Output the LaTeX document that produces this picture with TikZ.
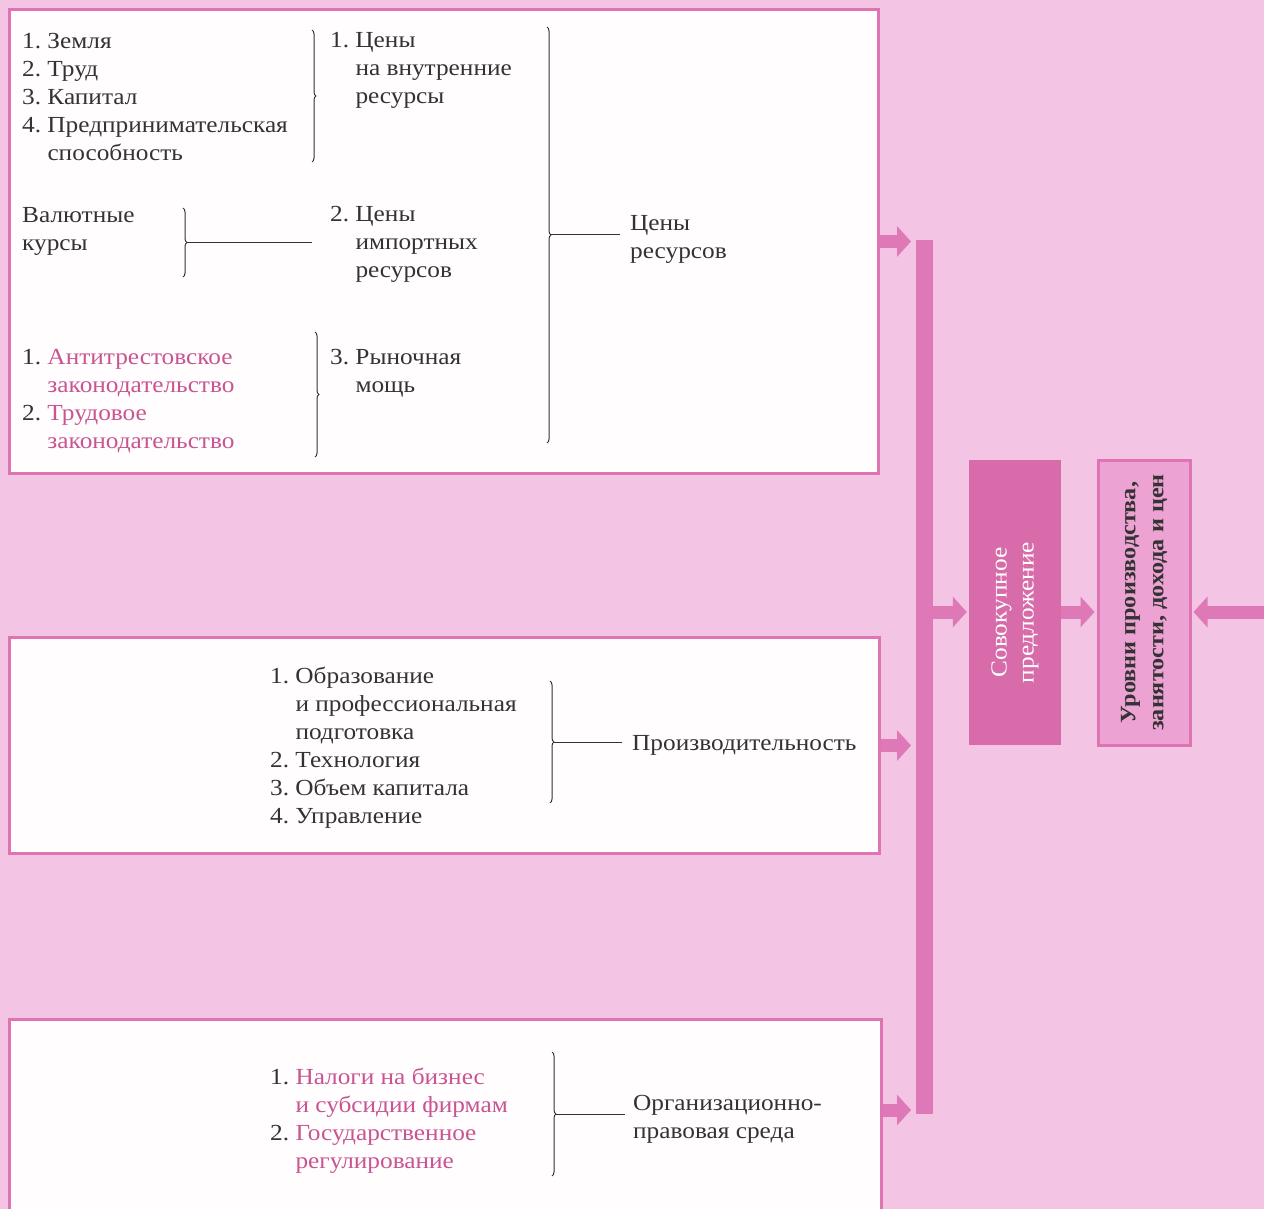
\documentclass[tikz,border=0pt]{standalone}
\usepackage{fontspec}
\setmainfont{Liberation Serif}[FakeStretch=1.1]
\usetikzlibrary{arrows.meta, decorations.pathreplacing}
\definecolor{pagepink}{RGB}{243,196,228}
\definecolor{framepink}{RGB}{222,116,178}
\definecolor{barpink}{RGB}{222,120,182}
\definecolor{boxpink}{RGB}{216,108,170}
\definecolor{levelpink}{RGB}{236,162,210}
\definecolor{inkgray}{RGB}{52,50,52}
\definecolor{lawpink}{RGB}{200,85,145}

% numbered lists with hanging continuation lines
\newcommand{\itemtab}[1]{\begin{tabular}[t]{@{}l@{\ }l@{}}#1\end{tabular}}
\newcommand{\plaintab}[1]{\begin{tabular}[t]{@{}l@{}}#1\end{tabular}}
\newcommand{\law}[1]{\textcolor{lawpink}{#1}}

\tikzset{
  panel/.style={draw=framepink, line width=3pt, fill=white!96!pagepink, anchor=north west, inner sep=0pt},
  txt/.style={anchor=base west, inner sep=0pt, text=inkgray, font=\fontsize{23}{28}\selectfont},
  brace/.style={decorate, decoration={brace, amplitude=4pt}, draw=inkgray, line width=1pt},
  link/.style={draw=inkgray, line width=1pt},
  flow/.style={draw=barpink, line width=13pt, -{Triangle[length=14pt, width=30pt]}},
  upright/.style={rotate=90, minimum width=285pt, minimum height=92pt, inner sep=0pt, align=center},
  sumbox/.style={upright, fill=boxpink, text=white, font=\fontsize{23}{27}\selectfont},
  levelbox/.style={upright, fill=levelpink, draw=framepink, line width=3pt, text=inkgray, font=\bfseries\fontsize{22}{28}\selectfont},
}

\begin{document}
\begin{tikzpicture}[x=1pt, y=-1pt]
\fill[pagepink] (0,0) rectangle (1264,1209);
\useasboundingbox (0,0) rectangle (1264,1209);

% three white panels
\node[panel, minimum width=869pt, minimum height=464pt] (prices) at (8,8) {};
\node[panel, minimum width=870pt, minimum height=216pt] (product) at (8,636) {};
\node[panel, minimum width=872pt, minimum height=196pt] (legal) at (8,1018) {};

% resource prices
\node[txt] (inputs) at (22,49) {\itemtab{1. & Земля\\ 2. & Труд\\ 3. & Капитал\\ 4. & Предпринимательская\\ & способность}};
\node[txt] (domestic) at (330,48) {\itemtab{1. & Цены\\ & на внутренние\\ & ресурсы}};
\node[txt] (fx) at (22,223) {\plaintab{Валютные\\курсы}};
\node[txt] (imported) at (330,222) {\itemtab{2. & Цены\\ & импортных\\ & ресурсов}};
\node[txt] (laws) at (22,364) {\itemtab{1. & \law{Антитрестовское}\\ & \law{законодательство}\\ 2. & \law{Трудовое}\\ & \law{законодательство}}};
\node[txt] (power) at (330,364) {\itemtab{3. & Рыночная\\ & мощь}};
\node[txt] (resprice) at (630,231) {\plaintab{Цены\\ресурсов}};

\draw[brace] (312,30) -- (312,162);
\draw[brace] (183,208) -- (183,277);
\draw[brace] (315,332) -- (315,457);
\draw[brace] (547,27) -- (547,443);
\coordinate (fxtip) at (187,242.5);
\coordinate (restip) at (551,235);
\draw[link, shorten >=18pt] (fxtip) -- (fxtip -| imported.west);
\draw[link, shorten >=10pt] (restip) -- (restip -| resprice.west);

% productivity
\node[txt] (factors) at (270,683) {\itemtab{1. & Образование\\ & и профессиональная\\ & подготовка\\ 2. & Технология\\ 3. & Объем капитала\\ 4. & Управление}};
\node[txt] (productivity) at (632,750) {Производительность};
\draw[brace] (550,681) -- (550,803);
\coordinate (prodtip) at (554,742);
\draw[link, shorten >=10pt] (prodtip) -- (prodtip -| productivity.west);

% legal environment
\node[txt] (policy) at (270,1084) {\itemtab{1. & \law{Налоги на бизнес}\\ & \law{и субсидии фирмам}\\ 2. & \law{Государственное}\\ & \law{регулирование}}};
\node[txt] (legalenv) at (633,1110) {\plaintab{Организационно-\\правовая среда}};
\draw[brace] (552,1052) -- (552,1176);
\coordinate (legaltip) at (556,1114);
\draw[link, shorten >=8pt] (legaltip) -- (legaltip -| legalenv.west);

% collecting bar and aggregate supply
\node[fill=barpink, inner sep=0pt, minimum width=17pt, minimum height=874pt, anchor=north west] (bar) at (916,240) {};
\node[sumbox] (supply) at (1015,602.5) {Совокупное\hspace*{20pt}\\предложение\hspace*{20pt}};
\node[levelbox] (levels) at (1144,602.5) {Уровни производства,\\занятости, дохода и цен};

\coordinate (lowin) at (0,1110);
\coordinate (lvl) at (0,612);
\coordinate (rim) at (1264,612);
\draw[flow, shorten >=5pt] (prices.east) -- (prices.east -| bar.west);
\draw[flow, shorten >=5pt] (product.east) -- (product.east -| bar.west);
\draw[flow, shorten >=5pt] (legal.east |- lowin) -- (bar.west |- lowin);
\draw[flow, shorten >=2pt] (bar.east |- lvl) -- (supply.north |- lvl);
\draw[flow, shorten >=2pt] (supply.south |- lvl) -- (levels.north |- lvl);
\draw[flow, shorten >=2pt] (rim) -- (levels.south |- rim);
\end{tikzpicture}
\end{document}
